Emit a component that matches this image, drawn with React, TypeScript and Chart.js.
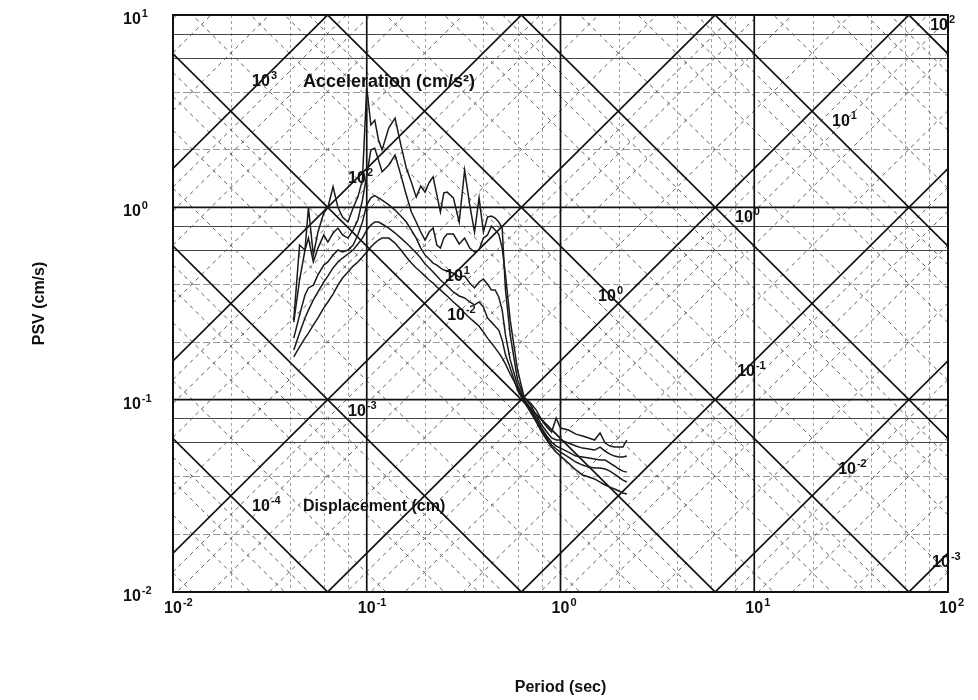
import React, { useEffect, useRef } from "react";
import { Chart, registerables } from "chart.js";

Chart.register(...registerables);

// ---- data (period in s, pseudo spectral velocity in cm/s) ----
const periods = [
  0.042, 0.045, 0.048, 0.05, 0.053, 0.056, 0.06, 0.063, 0.067, 0.071,
  0.075, 0.08, 0.085, 0.09, 0.095, 0.1, 0.105, 0.11, 0.115, 0.12,
  0.13, 0.14, 0.15, 0.16, 0.17, 0.18, 0.19, 0.2, 0.21, 0.22,
  0.23, 0.24, 0.25, 0.26, 0.28, 0.3, 0.32, 0.34, 0.36, 0.38,
  0.4, 0.42, 0.44, 0.46, 0.48, 0.5, 0.52, 0.55, 0.6, 0.65,
  0.7, 0.75, 0.8, 0.85, 0.9, 0.95, 1.0, 1.1, 1.2, 1.3,
  1.4, 1.5, 1.6, 1.7, 1.8, 1.9, 2.0, 2.1, 2.2,
];

const psvCurve1 = [
  0.259, 0.637, 0.6, 1.0, 0.565, 0.744, 0.934, 1.0, 1.28, 1.0,
  0.89, 0.839, 0.992, 1.13, 1.39, 4.22, 2.68, 2.84, 2.24, 1.99,
  2.59, 2.91, 2.11, 1.6, 1.35, 1.13, 1.29, 1.2, 1.35, 1.44,
  1.16, 0.945, 1.19, 1.2, 1.12, 0.839, 1.56, 1.03, 0.744, 1.12,
  0.744, 0.89, 0.901, 0.88, 0.839, 0.78, 0.372, 0.217, 0.127, 0.103,
  0.096, 0.0883, 0.0783, 0.0721, 0.0679, 0.0802, 0.0712, 0.0695, 0.0662, 0.0647,
  0.0632, 0.0617, 0.0671, 0.0595, 0.0574, 0.0567, 0.0567, 0.0567, 0.0617,
];

const psvCurve2 = [
  0.253, 0.419, 0.6, 0.692, 0.52, 0.614, 0.718, 0.66, 0.735, 0.78,
  0.718, 0.692, 0.762, 0.859, 1.09, 1.47, 1.99, 2.03, 1.76, 1.53,
  1.66, 1.87, 1.47, 1.16, 0.945, 0.839, 0.744, 0.676, 0.744, 0.78,
  0.637, 0.614, 0.692, 0.726, 0.726, 0.645, 0.692, 0.614, 0.586, 0.6,
  0.692, 0.718, 0.799, 0.762, 0.726, 0.614, 0.445, 0.259, 0.143, 0.102,
  0.0938, 0.0832, 0.0738, 0.0679, 0.0632, 0.0617, 0.0617, 0.0595, 0.0574, 0.056,
  0.0554, 0.0547, 0.0567, 0.054, 0.0521, 0.0509, 0.0503, 0.0503, 0.0509,
];

const psvCurve3 = [
  0.209, 0.275, 0.35, 0.381, 0.394, 0.445, 0.501, 0.52, 0.565, 0.6,
  0.586, 0.6, 0.637, 0.718, 0.839, 1.03, 1.12, 1.15, 1.12, 1.09,
  1.03, 0.968, 0.901, 0.839, 0.762, 0.692, 0.614, 0.565, 0.539, 0.513,
  0.501, 0.484, 0.472, 0.467, 0.455, 0.434, 0.439, 0.404, 0.381, 0.409,
  0.424, 0.399, 0.372, 0.372, 0.342, 0.292, 0.217, 0.161, 0.119, 0.0995,
  0.0904, 0.0802, 0.0712, 0.0647, 0.0602, 0.0574, 0.056, 0.0534, 0.0509, 0.0503,
  0.0497, 0.0491, 0.0485, 0.0485, 0.0468, 0.0452, 0.0436, 0.0425, 0.042,
];

const psvCurve4 = [
  0.181, 0.222, 0.266, 0.292, 0.33, 0.363, 0.409, 0.439, 0.484, 0.52,
  0.545, 0.572, 0.6, 0.645, 0.692, 0.762, 0.809, 0.839, 0.839, 0.819,
  0.78, 0.735, 0.692, 0.652, 0.614, 0.579, 0.545, 0.507, 0.484, 0.461,
  0.439, 0.419, 0.404, 0.39, 0.363, 0.346, 0.338, 0.322, 0.311, 0.322,
  0.303, 0.266, 0.253, 0.241, 0.23, 0.204, 0.171, 0.146, 0.112, 0.0972,
  0.0883, 0.0783, 0.0695, 0.0632, 0.0581, 0.0554, 0.0534, 0.0503, 0.0474, 0.0457,
  0.0446, 0.0441, 0.0441, 0.0436, 0.0425, 0.041, 0.0396, 0.0382, 0.0373,
];

const psvCurve5 = [
  0.167, 0.188, 0.209, 0.222, 0.244, 0.266, 0.3, 0.322, 0.354, 0.394,
  0.429, 0.461, 0.495, 0.52, 0.552, 0.586, 0.622, 0.652, 0.676, 0.692,
  0.692, 0.652, 0.6, 0.552, 0.513, 0.484, 0.461, 0.439, 0.419, 0.404,
  0.385, 0.372, 0.358, 0.346, 0.322, 0.303, 0.282, 0.266, 0.253, 0.241,
  0.225, 0.209, 0.197, 0.186, 0.175, 0.165, 0.153, 0.136, 0.115, 0.0972,
  0.0862, 0.0765, 0.0679, 0.0617, 0.0567, 0.0534, 0.0509, 0.0468, 0.0431, 0.0406,
  0.0396, 0.0387, 0.0373, 0.036, 0.0351, 0.0343, 0.0335, 0.0327, 0.0323,
];

const curves = [psvCurve1, psvCurve2, psvCurve3, psvCurve4, psvCurve5];

// axis ranges and tick labels (decade exponents)
const xMin = 0.01;
const xMax = 100;
const yMin = 0.01;
const yMax = 10;
const xTickExponents = [-2, -1, 0, 1, 2];
const yTickExponents = [-2, -1, 0, 1];

// tripartite grid: decades and minor multipliers
const diagExponents = [-7, -6, -5, -4, -3, -2, -1, 0, 1, 2, 3, 4];
const minorMultipliers = [2, 4, 6, 8];
const darkHorizontalMinors = [6, 8];

// diagonal scale labels: exponent, period, PSV of the label anchor
const accelLabelExps = ["3", "2", "1", "0", "-1", "-2", "-3"];
const accelLabelT = [0.0256, 0.0801, 0.2535, 1.563, 8.16, 27.1, 82.8];
const accelLabelV = [4.59, 1.437, 0.445, 0.35, 0.143, 0.0441, 0.0145];
const dispLabelExps = ["-4", "-3", "-2", "0", "1", "2"];
const dispLabelT = [0.0256, 0.0801, 0.26, 7.96, 25.2, 80.9];
const dispLabelV = [0.0283, 0.0883, 0.279, 0.901, 2.84, 8.98];
const captionTexts = ["Acceleration (cm/s\u00B2)", "Displacement (cm)"];
const captionT = [0.0469, 0.0469];
const captionV = [4.54, 0.0283];
const captionSizes = [18, 16];

const FONT = "'Liberation Sans', Arial, Helvetica, sans-serif";
const TWO_PI = 2 * Math.PI;

const gridPlugin = {
  id: "tripartiteGrid",
  beforeDatasetsDraw(chart: any) {
    const { ctx, chartArea: a, scales } = chart;
    const xs = scales.x;
    const ys = scales.y;
    const line = (x1: number, y1: number, x2: number, y2: number, color: string, w: number, dash: number[]) => {
      ctx.beginPath();
      ctx.strokeStyle = color;
      ctx.lineWidth = w;
      ctx.setLineDash(dash);
      ctx.moveTo(x1, y1);
      ctx.lineTo(x2, y2);
      ctx.stroke();
    };
    ctx.save();
    ctx.beginPath();
    ctx.rect(a.left, a.top, a.right - a.left, a.bottom - a.top);
    ctx.clip();

    // vertical minors
    for (const e of xTickExponents) {
      for (const m of minorMultipliers) {
        const v = m * Math.pow(10, e);
        if (v >= xMax) continue;
        const px = Math.round(xs.getPixelForValue(v)) + 0.5;
        line(px, a.top, px, a.bottom, "#a0a0a0", 1, [3, 3]);
      }
    }
    // horizontal minors
    for (const e of yTickExponents) {
      for (const m of minorMultipliers) {
        const v = m * Math.pow(10, e);
        if (v >= yMax) continue;
        const py = Math.round(ys.getPixelForValue(v)) + 0.5;
        if (darkHorizontalMinors.includes(m)) line(a.left, py, a.right, py, "#4a4a4a", 1, []);
        else line(a.left, py, a.right, py, "#999", 1, [7, 3]);
      }
    }
    const x1 = xs.getPixelForValue(xMin);
    const x2 = xs.getPixelForValue(xMax);
    // diagonal minors
    for (const e of diagExponents) {
      for (const m of minorMultipliers) {
        const k = m * Math.pow(10, e);
        // displacement lines: PSV = 2*pi*D/T
        line(x1, ys.getPixelForValue((TWO_PI * k) / xMin), x2, ys.getPixelForValue((TWO_PI * k) / xMax), "#5e5e5e", 1, [4, 4]);
        // acceleration lines: PSV = A*T/(2*pi)
        line(x1, ys.getPixelForValue((k * xMin) / TWO_PI), x2, ys.getPixelForValue((k * xMax) / TWO_PI), "#5e5e5e", 1, [4, 4]);
      }
    }
    // diagonal decades
    for (const e of diagExponents) {
      const k = Math.pow(10, e);
      line(x1, ys.getPixelForValue((TWO_PI * k) / xMin), x2, ys.getPixelForValue((TWO_PI * k) / xMax), "#111", 1.7, []);
      line(x1, ys.getPixelForValue((k * xMin) / TWO_PI), x2, ys.getPixelForValue((k * xMax) / TWO_PI), "#111", 1.7, []);
    }
    // decade verticals / horizontals
    for (const e of xTickExponents) {
      const px = xs.getPixelForValue(Math.pow(10, e));
      line(px, a.top, px, a.bottom, "#111", 1.7, []);
    }
    for (const e of yTickExponents) {
      const py = ys.getPixelForValue(Math.pow(10, e));
      line(a.left, py, a.right, py, "#111", 1.7, []);
    }
    ctx.restore();

    // frame
    ctx.save();
    ctx.strokeStyle = "#111";
    ctx.lineWidth = 2;
    ctx.setLineDash([]);
    ctx.strokeRect(a.left, a.top, a.right - a.left, a.bottom - a.top);
    ctx.restore();
  },
};

function drawPower(ctx: any, exp: string, left: number, baseline: number, size: number, expSize: number, rise: number) {
  ctx.font = `bold ${size}px ${FONT}`;
  ctx.fillText("10", left, baseline);
  const w = ctx.measureText("10").width;
  ctx.font = `bold ${expSize}px ${FONT}`;
  ctx.fillText(exp, left + w + 1, baseline - rise);
}

const labelPlugin = {
  id: "tripartiteLabels",
  afterDraw(chart: any) {
    const { ctx, chartArea: a, scales } = chart;
    const xs = scales.x;
    const ys = scales.y;
    ctx.save();
    ctx.fillStyle = "#111";
    ctx.textAlign = "left";
    ctx.textBaseline = "alphabetic";

    // diagonal scale labels
    for (let i = 0; i < accelLabelExps.length; i++) {
      const px = xs.getPixelForValue(accelLabelT[i]);
      const py = ys.getPixelForValue(accelLabelV[i]);
      drawPower(ctx, accelLabelExps[i], px, py + 6, 16, 11, 7);
    }
    for (let i = 0; i < dispLabelExps.length; i++) {
      const px = xs.getPixelForValue(dispLabelT[i]);
      const py = ys.getPixelForValue(dispLabelV[i]);
      drawPower(ctx, dispLabelExps[i], px, py + 6, 16, 11, 7);
    }
    for (let i = 0; i < captionTexts.length; i++) {
      const px = xs.getPixelForValue(captionT[i]);
      const py = ys.getPixelForValue(captionV[i]);
      ctx.font = `bold ${captionSizes[i]}px ${FONT}`;
      ctx.fillText(captionTexts[i], px, py + 6);
    }

    // x tick labels
    for (const e of xTickExponents) {
      const px = xs.getPixelForValue(Math.pow(10, e));
      ctx.font = `bold 16px ${FONT}`;
      const w = ctx.measureText("10").width;
      drawPower(ctx, String(e), px - w / 2, a.bottom + 21, 16, 11, 7);
    }
    // y tick labels
    for (const e of yTickExponents) {
      const py = ys.getPixelForValue(Math.pow(10, e));
      drawPower(ctx, String(e), 123, py + 9, 16, 11, 7);
    }
    ctx.restore();
  },
};

export default function App() {
  const ref = useRef<HTMLCanvasElement>(null);
  useEffect(() => {
    const canvas = ref.current;
    if (!canvas) return;
    const chart = new Chart(canvas, {
      type: "line",
      data: {
        datasets: curves.map((c, idx) => ({
          label: `curve ${idx + 1}`,
          data: periods.map((t, i) => ({ x: t, y: c[i] })),
          borderColor: "#1a1a1a",
          borderWidth: 1.5,
          pointRadius: 0,
          fill: false,
          tension: 0,
        })),
      },
      options: {
        responsive: false,
        animation: false,
        devicePixelRatio: 1,
        layout: { padding: { left: 0, right: 30, top: 15, bottom: 0 } },
        plugins: { legend: { display: false }, tooltip: { enabled: false } },
        scales: {
          x: {
            type: "logarithmic",
            min: xMin,
            max: xMax,
            grid: { display: false },
            border: { display: false },
            ticks: { display: false },
            title: {
              display: true,
              text: "Period (sec)",
              color: "#111",
              font: { family: FONT, size: 16, weight: "bold" },
              padding: { top: 0, bottom: 3 },
            },
            afterFit: (s: any) => {
              s.height = 108;
            },
          },
          y: {
            type: "logarithmic",
            min: yMin,
            max: yMax,
            grid: { display: false },
            border: { display: false },
            ticks: { display: false },
            title: {
              display: true,
              text: "PSV (cm/s)",
              color: "#111",
              font: { family: FONT, size: 16, weight: "bold" },
              padding: { top: 30, bottom: 0 },
            },
            afterFit: (s: any) => {
              s.width = 173;
            },
          },
        },
      } as any,
      plugins: [gridPlugin, labelPlugin],
    });
    return () => chart.destroy();
  }, []);
  return (
    <div style={{ position: "absolute", left: 0, top: 0, width: 978, height: 700, background: "#fff" }}>
      <canvas ref={ref} width={978} height={700} style={{ display: "block" }} />
    </div>
  );
}
